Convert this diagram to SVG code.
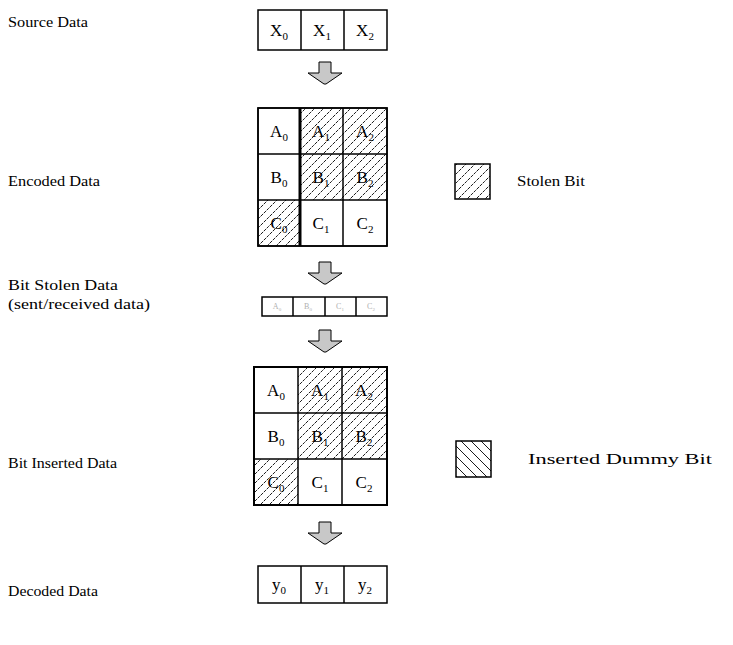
<svg xmlns="http://www.w3.org/2000/svg" width="733" height="645" viewBox="0 0 733 645">
<style>
.lbl{font-family:"Liberation Serif","Times New Roman",serif;font-size:15px;fill:#000}
.cell{font-family:"Liberation Serif","Times New Roman",serif;font-size:17px;fill:#000;text-anchor:middle}
.sub{font-size:11px}
.faint{font-family:"Liberation Serif",serif;font-size:8px;fill:#b0b0b0;text-anchor:middle}
.box{fill:#fff;stroke:#000;stroke-width:1.5}
.ln{stroke:#000;stroke-width:1.5}
.arrow{fill:#c8c8c8;stroke:#000;stroke-width:1}
</style>
<defs>
<pattern id="fwd" patternUnits="userSpaceOnUse" width="9" height="9">
<path d="M-2,2 L2,-2 M0,9 L9,0 M7,11 L11,7" stroke="#000" stroke-width="0.9" stroke-dasharray="3,1"/>
</pattern>
<pattern id="bwd" patternUnits="userSpaceOnUse" width="10" height="10">
<path d="M-2,8 L2,12 M0,0 L10,10 M8,-2 L12,2" stroke="#000" stroke-width="0.9"/>
</pattern>
<polygon id="darrow" class="arrow" points="-6,0 6,0 6,11 17,11 1,22 -1,22 -17,11 -6,11"/>
</defs>
<rect width="733" height="645" fill="#fff"/>

<g id="labels">
<text class="lbl" x="8" y="27" textLength="80" lengthAdjust="spacingAndGlyphs">Source Data</text>
<text class="lbl" x="8" y="186" textLength="92" lengthAdjust="spacingAndGlyphs">Encoded Data</text>
<text class="lbl" x="8" y="290" textLength="110" lengthAdjust="spacingAndGlyphs">Bit Stolen Data</text>
<text class="lbl" x="8" y="309" textLength="142" lengthAdjust="spacingAndGlyphs">(sent/received data)</text>
<text class="lbl" x="8" y="468" textLength="109" lengthAdjust="spacingAndGlyphs">Bit Inserted Data</text>
<text class="lbl" x="8" y="596" textLength="90" lengthAdjust="spacingAndGlyphs">Decoded Data</text>
</g>

<g id="source">
<rect class="box" x="258" y="10" width="129" height="40"/>
<line class="ln" x1="301" y1="10" x2="301" y2="50"/>
<line class="ln" x1="344" y1="10" x2="344" y2="50"/>
<text class="cell" x="279" y="36">X<tspan class="sub" dy="4">0</tspan></text>
<text class="cell" x="322" y="36">X<tspan class="sub" dy="4">1</tspan></text>
<text class="cell" x="365" y="36">X<tspan class="sub" dy="4">2</tspan></text>
</g>

<g id="connectors">
<use href="#darrow" x="325" y="62"/>
<use href="#darrow" x="325" y="262"/>
<use href="#darrow" x="325" y="330"/>
<use href="#darrow" x="325" y="522"/>
</g>

<g id="encoded">
<rect class="box" x="258" y="108" width="129" height="138"/>
<rect x="300" y="108" width="87" height="92" fill="url(#fwd)"/>
<rect x="258" y="200" width="42" height="46" fill="url(#fwd)"/>
<line class="ln" x1="258" y1="154" x2="387" y2="154"/>
<line class="ln" x1="258" y1="200" x2="387" y2="200"/>
<line stroke="#000" stroke-width="3" x1="300" y1="108" x2="300" y2="246"/>
<line class="ln" x1="343" y1="108" x2="343" y2="246"/>
<rect x="258" y="108" width="129" height="138" fill="none" stroke="#000" stroke-width="1.5"/>
<text class="cell" x="279" y="137">A<tspan class="sub" dy="4">0</tspan></text>
<text class="cell" x="321" y="137">A<tspan class="sub" dy="4">1</tspan></text>
<text class="cell" x="365" y="137">A<tspan class="sub" dy="4">2</tspan></text>
<text class="cell" x="279" y="183">B<tspan class="sub" dy="4">0</tspan></text>
<text class="cell" x="321" y="183">B<tspan class="sub" dy="4">1</tspan></text>
<text class="cell" x="365" y="183">B<tspan class="sub" dy="4">2</tspan></text>
<text class="cell" x="279" y="229">C<tspan class="sub" dy="4">0</tspan></text>
<text class="cell" x="321" y="229">C<tspan class="sub" dy="4">1</tspan></text>
<text class="cell" x="365" y="229">C<tspan class="sub" dy="4">2</tspan></text>
</g>

<g id="legend-stolen">
<rect x="455" y="164" width="35" height="35" fill="url(#fwd)" stroke="#000" stroke-width="1.5"/>
<text class="lbl" x="517" y="186" textLength="68" lengthAdjust="spacingAndGlyphs">Stolen Bit</text>
</g>

<g id="stolen">
<rect class="box" x="262" y="297" width="125" height="19"/>
<line class="ln" x1="293" y1="297" x2="293" y2="316"/>
<line class="ln" x1="325" y1="297" x2="325" y2="316"/>
<line class="ln" x1="356" y1="297" x2="356" y2="316"/>
<text class="faint" x="277" y="309">A<tspan font-size="5" dy="2">0</tspan></text>
<text class="faint" x="308" y="309">B<tspan font-size="5" dy="2">0</tspan></text>
<text class="faint" x="340" y="309">C<tspan font-size="5" dy="2">1</tspan></text>
<text class="faint" x="371" y="309">C<tspan font-size="5" dy="2">2</tspan></text>
</g>

<g id="inserted">
<rect class="box" x="254" y="367" width="133" height="138"/>
<rect x="298" y="367" width="89" height="92" fill="url(#fwd)"/>
<rect x="254" y="459" width="44" height="46" fill="url(#fwd)"/>
<line class="ln" x1="254" y1="413" x2="387" y2="413"/>
<line class="ln" x1="254" y1="459" x2="387" y2="459"/>
<line class="ln" x1="298" y1="367" x2="298" y2="505"/>
<line class="ln" x1="342" y1="367" x2="342" y2="505"/>
<rect x="254" y="367" width="133" height="138" fill="none" stroke="#000" stroke-width="2"/>
<text class="cell" x="276" y="396">A<tspan class="sub" dy="4">0</tspan></text>
<text class="cell" x="320" y="396">A<tspan class="sub" dy="4">1</tspan></text>
<text class="cell" x="364" y="396">A<tspan class="sub" dy="4">2</tspan></text>
<text class="cell" x="276" y="442">B<tspan class="sub" dy="4">0</tspan></text>
<text class="cell" x="320" y="442">B<tspan class="sub" dy="4">1</tspan></text>
<text class="cell" x="364" y="442">B<tspan class="sub" dy="4">2</tspan></text>
<text class="cell" x="276" y="488">C<tspan class="sub" dy="4">0</tspan></text>
<text class="cell" x="320" y="488">C<tspan class="sub" dy="4">1</tspan></text>
<text class="cell" x="364" y="488">C<tspan class="sub" dy="4">2</tspan></text>
</g>

<g id="legend-inserted">
<rect x="456" y="441" width="35" height="36" fill="url(#bwd)" stroke="#000" stroke-width="1.5"/>
<text class="lbl" x="528" y="464" textLength="184" lengthAdjust="spacingAndGlyphs">Inserted Dummy Bit</text>
</g>

<g id="decoded">
<rect class="box" x="258" y="566" width="129" height="37"/>
<line class="ln" x1="301" y1="566" x2="301" y2="603"/>
<line class="ln" x1="344" y1="566" x2="344" y2="603"/>
<text class="cell" x="279" y="590">y<tspan class="sub" dy="4">0</tspan></text>
<text class="cell" x="322" y="590">y<tspan class="sub" dy="4">1</tspan></text>
<text class="cell" x="365" y="590">y<tspan class="sub" dy="4">2</tspan></text>
</g>
</svg>
